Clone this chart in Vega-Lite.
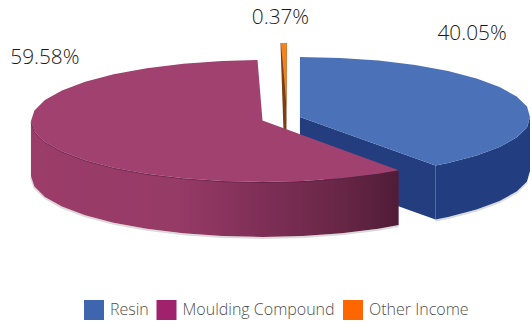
{
  "$schema": "https://vega.github.io/schema/vega-lite/v6.json",
  "width": 531,
  "height": 324,
  "padding": 0,
  "autosize": {"type": "fit", "contains": "padding"},
  "background": "white",
  "view": {"stroke": null},
  "datasets": {
    "shares": [
      {"slice": "Resin", "share": 40.05, "label": "40.05%", "x": 473, "y": 34},
      {"slice": "Moulding Compound", "share": 59.58, "label": "59.58%", "x": 45, "y": 58},
      {"slice": "Other Income", "share": 0.37, "label": "0.37%", "x": 281, "y": 18}
    ],
    "resinCut": [
      {"i": 0, "x": 300.5, "y": 117}, {"i": 1, "x": 436.3, "y": 165.5}, {"i": 2, "x": 436.3, "y": 219.5}, {"i": 3, "x": 300.5, "y": 171}
    ],
    "resinWall": [
      {"i": 0, "x": 436.3, "y": 165.5}, {"i": 1, "x": 449, "y": 163}, {"i": 2, "x": 477.5, "y": 155.6}, {"i": 3, "x": 500.5, "y": 147},
      {"i": 4, "x": 517.6, "y": 137.5}, {"i": 5, "x": 528, "y": 127.4}, {"i": 6, "x": 531, "y": 117}, {"i": 7, "x": 531, "y": 171},
      {"i": 8, "x": 528, "y": 181.4}, {"i": 9, "x": 517.6, "y": 191.5}, {"i": 10, "x": 500.5, "y": 201}, {"i": 11, "x": 477.5, "y": 209.6},
      {"i": 12, "x": 449, "y": 217}, {"i": 13, "x": 436.3, "y": 219.5}
    ],
    "resinTop": [
      {"i": 0, "x": 300.5, "y": 117}, {"i": 1, "x": 300.5, "y": 57}, {"i": 2, "x": 340.7, "y": 57.9}, {"i": 3, "x": 379.5, "y": 60.6},
      {"i": 4, "x": 416, "y": 65}, {"i": 5, "x": 449, "y": 71}, {"i": 6, "x": 477.5, "y": 78.4}, {"i": 7, "x": 500.5, "y": 87},
      {"i": 8, "x": 517.6, "y": 96.5}, {"i": 9, "x": 528, "y": 106.6}, {"i": 10, "x": 531, "y": 117}, {"i": 11, "x": 528, "y": 127.4},
      {"i": 12, "x": 517.6, "y": 137.5}, {"i": 13, "x": 500.5, "y": 147}, {"i": 14, "x": 477.5, "y": 155.6}, {"i": 15, "x": 449, "y": 163},
      {"i": 16, "x": 436.3, "y": 165.5}
    ],
    "resinShade": [
      {"i": 0, "x": 436.3, "y": 220.5}, {"i": 1, "x": 449, "y": 218}, {"i": 2, "x": 477.5, "y": 210.6}, {"i": 3, "x": 500.5, "y": 202},
      {"i": 4, "x": 517.6, "y": 192.5}, {"i": 5, "x": 528, "y": 182.4}
    ],
    "otherBody": [
      {"i": 0, "x": 281, "y": 43}, {"i": 1, "x": 287.3, "y": 43}, {"i": 2, "x": 287, "y": 130}, {"i": 3, "x": 284, "y": 130}
    ],
    "otherTop": [
      {"i": 0, "x": 281.4, "y": 43}, {"i": 1, "x": 287.3, "y": 43}, {"i": 2, "x": 286.8, "y": 105}, {"i": 3, "x": 285.3, "y": 85}, {"i": 4, "x": 283.5, "y": 65}
    ],
    "mouldingWall": [
      {"i": 0, "x": 31, "y": 121}, {"i": 1, "x": 34.5, "y": 131.6}, {"i": 2, "x": 45, "y": 141.9}, {"i": 3, "x": 62.1, "y": 151.5},
      {"i": 4, "x": 85.3, "y": 160.2}, {"i": 5, "x": 113.8, "y": 167.7}, {"i": 6, "x": 147, "y": 173.8}, {"i": 7, "x": 183.7, "y": 178.3},
      {"i": 8, "x": 222.6, "y": 181.1}, {"i": 9, "x": 263, "y": 182}, {"i": 10, "x": 303.4, "y": 181.1}, {"i": 11, "x": 342.3, "y": 178.3},
      {"i": 12, "x": 379, "y": 173.8}, {"i": 13, "x": 399.4, "y": 170.3}, {"i": 14, "x": 399.4, "y": 225}, {"i": 15, "x": 379, "y": 228.8},
      {"i": 16, "x": 342.3, "y": 233.3}, {"i": 17, "x": 303.4, "y": 236.1}, {"i": 18, "x": 263, "y": 237}, {"i": 19, "x": 222.6, "y": 236.1},
      {"i": 20, "x": 183.7, "y": 233.3}, {"i": 21, "x": 147, "y": 228.8}, {"i": 22, "x": 113.8, "y": 222.7}, {"i": 23, "x": 85.3, "y": 215.2},
      {"i": 24, "x": 62.1, "y": 206.5}, {"i": 25, "x": 45, "y": 196.9}, {"i": 26, "x": 34.5, "y": 186.6}, {"i": 27, "x": 31, "y": 176}
    ],
    "mouldingTop": [
      {"i": 0, "x": 263, "y": 120.5}, {"i": 1, "x": 258, "y": 60}, {"i": 2, "x": 222.6, "y": 60.9}, {"i": 3, "x": 183.7, "y": 63.7},
      {"i": 4, "x": 147, "y": 68.2}, {"i": 5, "x": 113.8, "y": 74.3}, {"i": 6, "x": 85.3, "y": 81.8}, {"i": 7, "x": 62.1, "y": 90.5},
      {"i": 8, "x": 45, "y": 100.1}, {"i": 9, "x": 34.5, "y": 110.4}, {"i": 10, "x": 31, "y": 121}, {"i": 11, "x": 34.5, "y": 131.6},
      {"i": 12, "x": 45, "y": 141.9}, {"i": 13, "x": 62.1, "y": 151.5}, {"i": 14, "x": 85.3, "y": 160.2}, {"i": 15, "x": 113.8, "y": 167.7},
      {"i": 16, "x": 147, "y": 173.8}, {"i": 17, "x": 183.7, "y": 178.3}, {"i": 18, "x": 222.6, "y": 181.1}, {"i": 19, "x": 263, "y": 182},
      {"i": 20, "x": 303.4, "y": 181.1}, {"i": 21, "x": 342.3, "y": 178.3}, {"i": 22, "x": 379, "y": 173.8}, {"i": 23, "x": 399.4, "y": 170.3}
    ],
    "rim": [
      {"i": 0, "x": 31, "y": 122}, {"i": 1, "x": 34.5, "y": 132.2}, {"i": 2, "x": 45, "y": 142.5}, {"i": 3, "x": 62.1, "y": 152.1},
      {"i": 4, "x": 85.3, "y": 160.8}, {"i": 5, "x": 113.8, "y": 168.3}, {"i": 6, "x": 147, "y": 174.4}, {"i": 7, "x": 183.7, "y": 178.9},
      {"i": 8, "x": 222.6, "y": 181.7}, {"i": 9, "x": 263, "y": 182.6}, {"i": 10, "x": 303.4, "y": 181.7}, {"i": 11, "x": 342.3, "y": 178.9},
      {"i": 12, "x": 379, "y": 174.4}, {"i": 13, "x": 399.4, "y": 170.9}
    ],
    "groundShade": [
      {"i": 0, "x": 31, "y": 177}, {"i": 1, "x": 34.5, "y": 187.6}, {"i": 2, "x": 45, "y": 197.9}, {"i": 3, "x": 62.1, "y": 207.5},
      {"i": 4, "x": 85.3, "y": 216.2}, {"i": 5, "x": 113.8, "y": 223.7}, {"i": 6, "x": 147, "y": 229.8}, {"i": 7, "x": 183.7, "y": 234.3},
      {"i": 8, "x": 222.6, "y": 237.1}, {"i": 9, "x": 263, "y": 238}, {"i": 10, "x": 303.4, "y": 237.1}, {"i": 11, "x": 342.3, "y": 234.3},
      {"i": 12, "x": 379, "y": 229.8}, {"i": 13, "x": 399.4, "y": 226}
    ]
  },
  "encoding": {
    "x": {"field": "x", "type": "quantitative", "axis": null, "scale": {"domain": [0, 531], "nice": false, "zero": false}},
    "y": {"field": "y", "type": "quantitative", "axis": null, "scale": {"domain": [324, 0], "nice": false, "zero": false}},
    "order": {"field": "i", "type": "quantitative"}
  },
  "layer": [
    {"data": {"name": "resinShade"}, "mark": {"type": "line", "stroke": "#555555", "strokeWidth": 2, "opacity": 0.22}},
    {"data": {"name": "resinCut"}, "mark": {"type": "line", "fill": "#233d7f", "stroke": null}},
    {"data": {"name": "resinWall"}, "mark": {"type": "line", "fill": "#233e80", "stroke": null}},
    {"data": {"name": "resinTop"}, "mark": {"type": "line", "fill": "#4b72b8", "stroke": null}},
    {"data": {"name": "otherBody"}, "mark": {"type": "line", "fill": "#7b3f16", "stroke": null}},
    {"data": {"name": "otherTop"}, "mark": {"type": "line", "fill": "#f58220", "stroke": null}},
    {"data": {"name": "groundShade"}, "mark": {"type": "line", "stroke": "#555555", "strokeWidth": 2, "opacity": 0.22}},
    {
      "data": {"name": "mouldingWall"},
      "mark": {
        "type": "line",
        "stroke": null,
        "fill": {
          "gradient": "linear", "x1": 0, "y1": 0, "x2": 1, "y2": 0,
          "stops": [
            {"offset": 0, "color": "#9b3c69"},
            {"offset": 0.4, "color": "#963a66"},
            {"offset": 0.65, "color": "#7c2e55"},
            {"offset": 0.85, "color": "#672645"},
            {"offset": 1, "color": "#4f1c38"}
          ]
        }
      }
    },
    {"data": {"name": "mouldingTop"}, "mark": {"type": "line", "fill": "#a0416f", "stroke": null}},
    {"data": {"name": "rim"}, "mark": {"type": "line", "stroke": "#5a1f3e", "strokeWidth": 1, "opacity": 0.55}},
    {
      "data": {"name": "shares"},
      "mark": {"type": "point", "filled": true, "shape": "square", "size": 0, "opacity": 1},
      "encoding": {
        "color": {
          "field": "slice",
          "type": "nominal",
          "scale": {
            "domain": ["Resin", "Moulding Compound", "Other Income"],
            "range": ["#3e66ae", "#a0226c", "#ff6600"]
          },
          "legend": {
            "title": null,
            "orient": "none",
            "legendX": 84,
            "legendY": 300,
            "direction": "horizontal",
            "columns": 3,
            "padding": 0,
            "columnPadding": 7.5,
            "symbolType": "square",
            "symbolSize": 400,
            "symbolStrokeWidth": 0,
            "symbolOpacity": 1,
            "labelFont": "Open Sans",
            "labelFontSize": 16,
            "labelFontWeight": 300,
            "labelColor": "#505050",
            "labelOffset": 6,
            "labelLimit": 300
          }
        }
      }
    },
    {
      "data": {"name": "shares"},
      "mark": {"type": "text", "font": "Open Sans", "fontSize": 20.8, "fontWeight": 300, "color": "#1a1a1a", "align": "center", "baseline": "middle"},
      "encoding": {"text": {"field": "label"}}
    }
  ]
}
